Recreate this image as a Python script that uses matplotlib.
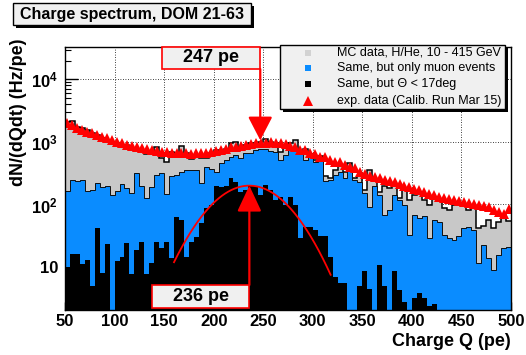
import numpy as np
import matplotlib
matplotlib.use("Agg")
import matplotlib.pyplot as plt
from matplotlib.patches import Rectangle
from matplotlib.lines import Line2D
from matplotlib.ticker import FixedLocator, FixedFormatter, LogLocator, MultipleLocator, NullFormatter

plt.rcParams['font.family'] = ['Liberation Sans', 'DejaVu Sans']
plt.rcParams['mathtext.fontset'] = 'custom'
plt.rcParams['mathtext.rm'] = 'Liberation Sans:bold'
plt.rcParams['mathtext.bf'] = 'Liberation Sans:bold'
plt.rcParams['mathtext.it'] = 'Liberation Sans:bold'

# ---------------- data ----------------
bin_edges = np.arange(50, 505, 5)          # charge bins (pe)

mc_all = [2110, 2190, 1760, 1670, 1560, 1390, 1290, 1160, 1076, 1010,
          960, 895, 895, 800, 770, 700, 640, 700, 830, 555,
          480, 690, 675, 850, 675, 528, 620, 548, 548, 660,
          745, 700, 763, 950, 1010, 840, 895, 950, 950, 1010,
          1100, 1010, 950, 700, 822, 964, 1076, 692, 773, 643,
          516, 597, 286, 266, 357, 429, 332, 462, 266, 286,
          171, 357, 247, 159, 198, 184, 205, 127, 171, 118,
          142, 153, 118, 98.5, 127, 118, 88, 82, 98.5, 102,
          95, 82, 88, 42, 45, 57, 42, 53, 68, 55]

mc_muon = [165, 250, 240, 250, 165, 170, 220, 190, 200, 140,
           165, 210, 180, 150, 320, 195, 127, 188, 300, 320,
           148, 285, 300, 330, 355, 356, 356, 218, 403, 366,
           335, 456, 515, 582, 620, 548, 660, 675, 745, 763,
           763, 725, 700, 515, 620, 802, 745, 692, 516, 620,
           480, 516, 240, 247, 297, 332, 266, 357, 247, 229,
           150, 91.5, 198, 140, 68, 82, 142, 118, 98.5, 32.5,
           68, 61, 66, 29, 57, 53, 32.5, 29, 27, 31,
           42, 44, 39, 11.6, 22.5, 14, 9.0, 15.6, 20, 21]

mc_vertical = [10, 16, 16, 11, 13, 5, 42, 8, 23, 0,
               12.5, 14.7, 24, 7.8, 18.7, 25.5, 7.8, 11.5, 25.5, 20,
               25.5, 14, 64, 56, 14.6, 25.5, 30.7, 50, 87, 98,
               200, 188, 200, 262, 232, 160, 171, 200, 200, 142,
               205, 171, 118, 133, 98, 133, 98, 29, 44, 44,
               39, 31, 31, 14.6, 7, 5.5, 5.5, 0, 0, 5,
               8.6, 4.5, 0, 10.8, 5, 0, 8.5, 4.3, 2.8, 0,
               3.2, 3.8, 3.2, 2.4, 2.6, 0, 0, 0, 0, 0,
               0, 0, 0, 0, 0, 0, 0, 0, 0, 0]

exp_data = [1990, 1870, 1660, 1560, 1460, 1380, 1290, 1190, 1145, 1076,
            1010, 950, 895, 863, 822, 790, 763, 745, 725, 700,
            700, 675, 660, 660, 655, 640, 660, 660, 675, 700,
            725, 745, 773, 822, 840, 873, 895, 917, 950, 950,
            975, 988, 975, 950, 917, 863, 832, 745, 745, 667,
            643, 576, 576, 516, 479, 479, 429, 399, 384, 332,
            308, 286, 276, 266, 247, 238, 229, 213, 198, 191,
            177, 171, 159, 148, 142, 132, 127, 123, 118, 114,
            110, 106, 102, 98.5, 95, 91.5, 82, 76, 71, 85]

# gaussian fit to the vertical-muon spectrum
fit_amp, fit_mean, fit_sigma = 200, 236, 32
fit_range = (160, 318)
exp_peak = 247

x_ticks = [50, 100, 150, 200, 250, 300, 350, 400, 450, 500]
y_ticks = [10, 100, 1000, 10000]
y_ticklabels = ['10', r'$10^{2}$', r'$10^{3}$', r'$10^{4}$']

legend_labels = ['MC data, H/He, 10 - 415 GeV',
                 'Same, but only muon events',
                 'Same, but \u0398 < 17deg',
                 'exp. data (Calib. Run Mar 15)']
title = 'Charge spectrum, DOM 21-63'

# ---------------- figure ----------------
W, H = 526, 355
fig = plt.figure(figsize=(W / 100, H / 100), dpi=100)
fig.patch.set_facecolor('white')
fx = lambda px: px / W
fy = lambda py: 1 - py / H

ax = fig.add_axes([fx(65), fy(310), (511 - 65) / W, (310 - 47) / H])
ax.set_yscale('log')
ax.set_xlim(50, 500)
ax.set_ylim(2.05, 3.3e4)

GRAY = '#c8c8c8'
BLUE = '#0a8cff'
floor = 0.5
centers = bin_edges[:-1] + 2.5

ax.stairs(np.maximum(mc_all, floor), bin_edges, baseline=floor, fill=True, color=GRAY, zorder=2)
ax.stairs(mc_all, bin_edges, baseline=None, color='black', lw=1.1, zorder=2.1)
ax.stairs(np.maximum(mc_muon, floor), bin_edges, baseline=floor, fill=True, color=BLUE, zorder=3)
ax.stairs(mc_muon, bin_edges, baseline=None, color='#101010', lw=0.7, zorder=3.1)
ax.stairs(np.maximum(mc_vertical, floor), bin_edges, baseline=floor, fill=True, color='black', zorder=4)

q = np.linspace(fit_range[0], fit_range[1], 200)
ax.plot(q, fit_amp * np.exp(-0.5 * ((q - fit_mean) / fit_sigma) ** 2), color='red', lw=1.3, zorder=5)

ax.plot(centers, exp_data, ls='none', marker='^', ms=6.5, mew=0, color='red', zorder=6)

# dotted grid behind the histograms
for xv in x_ticks[1:-1]:
    ax.axvline(xv, color='black', lw=0.6, ls=(0, (1, 2)), zorder=1)
for yv in y_ticks:
    ax.axhline(yv, color='black', lw=0.6, ls=(0, (1, 2)), zorder=1)

# axes / ticks
ax.xaxis.set_major_locator(FixedLocator(x_ticks))
ax.xaxis.set_minor_locator(MultipleLocator(10))
ax.yaxis.set_major_locator(FixedLocator(y_ticks))
ax.yaxis.set_major_formatter(FixedFormatter(y_ticklabels))
ax.yaxis.set_minor_locator(LogLocator(base=10, subs=np.arange(2, 10)))
ax.yaxis.set_minor_formatter(NullFormatter())
ax.tick_params(which='both', direction='in', top=False, right=False)
ax.tick_params(axis='y', which='major', length=9, width=1, pad=5, labelsize=12)
ax.tick_params(axis='y', which='minor', length=4.5, width=0.8)
ax.tick_params(axis='x', which='major', length=6, width=1, pad=3, labelsize=12)
ax.tick_params(axis='x', which='minor', length=3, width=0.8)
for lab in ax.get_xticklabels() + ax.get_yticklabels():
    lab.set_fontweight('bold')
for s in ax.spines.values():
    s.set_linewidth(1.0)
    s.set_zorder(7)

fig.text(fx(19), fy(38), 'dN/(dQdt) (Hz/pe)', rotation=90, ha='center', va='top',
         fontsize=13, fontweight='bold')
fig.text(fx(511), fy(333), 'Charge Q (pe)', ha='right', va='top',
         fontsize=13, fontweight='bold')

# title box with shadow
fig.patches.append(Rectangle((fx(16), fy(28)), (251 - 13) / W, (25 - 3) / H,
                             transform=fig.transFigure, fc='black', ec='none', zorder=1))
fig.patches.append(Rectangle((fx(13), fy(25)), (251 - 13) / W, (25 - 3) / H,
                             transform=fig.transFigure, fc='#f0f0f0', ec='black', lw=1, zorder=2))
fig.text(fx(132), fy(14), title, ha='center', va='center', fontsize=11.5, fontweight='bold', zorder=3)

# legend box with shadow
lx0, ly0, lx1, ly1 = 280, 45, 505, 109
leg_shadow = Rectangle((fx(lx0 + 3), fy(ly1 + 3)), (lx1 - lx0) / W, (ly1 - ly0) / H,
                       transform=fig.transFigure, fc='black', ec='none', zorder=10)
leg_box = Rectangle((fx(lx0), fy(ly1)), (lx1 - lx0) / W, (ly1 - ly0) / H,
                    transform=fig.transFigure, fc='#f0f0f0', ec='black', lw=1, zorder=11)
fig.add_artist(leg_shadow)
fig.add_artist(leg_box)
leg_markers = [('s', '#d2d2d2', 4.5), ('s', BLUE, 4.5), ('s', 'black', 4.5), ('^', 'red', 7)]
row_y = [52.7, 68.3, 84.2, 100.5]
for (mk, col, ms), lab, ry in zip(leg_markers, legend_labels, row_y):
    fig.add_artist(Line2D([fx(308)], [fy(ry)], marker=mk, ms=ms, mew=0, color=col,
                          ls='none', transform=fig.transFigure, zorder=12))
    fig.text(fx(337), fy(ry), lab, ha='left', va='center', fontsize=9, zorder=12)

# peak annotations
blend = ax.get_xaxis_transform()
bw = 99.5
box_top = Rectangle((exp_peak - bw, (310 - 69) / 263), bw, 22 / 263, transform=blend,
                    fc='#f0f0f0', ec='red', lw=1.2, zorder=8, clip_on=False)
ax.add_patch(box_top)
ax.text(exp_peak - bw / 2, (310 - 58) / 263, f'{exp_peak} pe', transform=blend,
        ha='center', va='center', fontsize=13, fontweight='bold', zorder=9)
peak_bin = int((exp_peak - bin_edges[0]) // 5)
ax.annotate('', xy=(exp_peak, exp_data[peak_bin] * 1.12), xycoords='data',
            xytext=(exp_peak, (310 - 69) / 263), textcoords=blend,
            arrowprops=dict(arrowstyle='-|>,head_length=1.45,head_width=0.75', mutation_scale=10,
                            color='red', lw=1.6, shrinkA=0, shrinkB=0), zorder=9)

box_bot = Rectangle((fit_mean - 98.5, (310 - 308) / 263), 98.5, 23 / 263, transform=blend,
                    fc='#f0f0f0', ec='red', lw=1.2, zorder=8)
ax.add_patch(box_bot)
ax.text(fit_mean - 98.5 / 2, (310 - 296.5) / 263, f'{fit_mean} pe', transform=blend,
        ha='center', va='center', fontsize=13, fontweight='bold', zorder=9)
ax.annotate('', xy=(fit_mean, fit_amp), xycoords='data',
            xytext=(fit_mean, (310 - 285) / 263), textcoords=blend,
            arrowprops=dict(arrowstyle='-|>,head_length=1.6,head_width=0.75', mutation_scale=10,
                            color='red', lw=1.6, shrinkA=0, shrinkB=0), zorder=9)

fig.savefig('out.png', dpi=100)
